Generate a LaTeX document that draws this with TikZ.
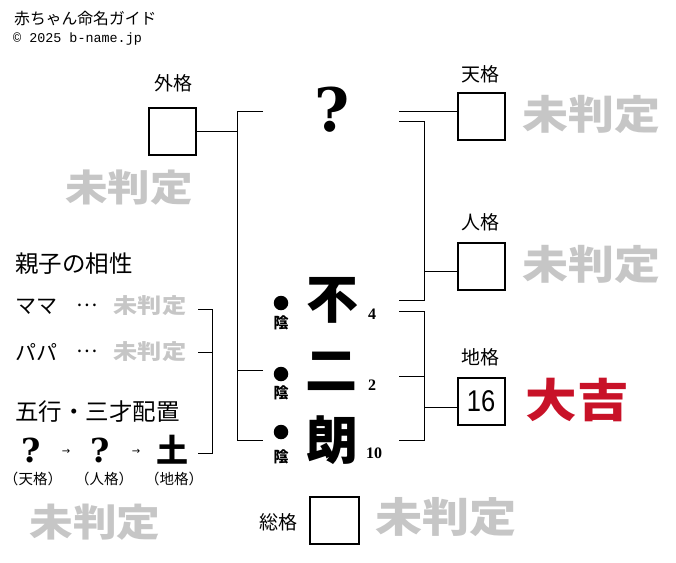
\documentclass[tikz,border=0pt]{standalone}
\usepackage{fontspec}
\newfontfamily\jp{Noto Sans CJK JP}
\newfontfamily\mono{Liberation Mono}
\newfontfamily\serifq{DejaVu Serif}
\newfontfamily\serifn{Liberation Serif}
\newfontfamily\sansn{Liberation Sans}
\newfontfamily\symf{DejaVu Sans}
\definecolor{pend}{RGB}{198,198,198}
\definecolor{kichi}{RGB}{200,18,40}
\newcommand{\widen}[1]{\scalebox{1.15}[1]{#1}}
\tikzset{
  hbox/.style={draw, line width=2pt, minimum width=47pt, minimum height=47pt, inner sep=0pt},
  lbl/.style={font=\jp\fontsize{19}{19}\selectfont, inner sep=0pt},
  lefttxt/.style={anchor=west, font=\jp\fontsize{23.5}{24}\selectfont, inner sep=0pt},
  pending/.style={text=pend, font=\jp\bfseries\fontsize{40}{40}\selectfont, inner sep=0pt},
  pendsmall/.style={text=pend, font=\jp\bfseries\fontsize{21}{21}\selectfont, inner sep=0pt},
  namech/.style={font=\jp\bfseries\fontsize{52}{52}\selectfont, inner sep=0pt},
  strokes/.style={font=\serifn\bfseries\fontsize{16}{16}\selectfont, inner sep=0pt},
  dot/.style={circle, fill=black, minimum size=14.5pt, inner sep=0pt},
  yin/.style={font=\jp\bfseries\fontsize{15}{15}\selectfont, inner sep=0pt},
  wire/.style={line width=1pt},
}
\begin{document}
\begin{tikzpicture}[x=1pt,y=-1pt]
\useasboundingbox (0,0) rectangle (676,562);
% header
\node[anchor=west, font=\jp\fontsize{15.8}{16}\selectfont, inner sep=0pt] (title) at (14,19) {赤ちゃん命名ガイド};
\node[anchor=west, font=\mono\fontsize{13.4}{14}\selectfont, inner sep=0pt] (copy) at (13,39) {© 2025 b-name.jp};
% boxes and labels
\node[lbl] (gaiL) at (173,83) {外格};
\node[hbox] (gai) at (172.5,131) {};
\node[pending, font=\jp\bfseries\fontsize{37}{37}\selectfont] (gaiP) at (129,188) {\widen{未判定}};
\node[lbl] (tenL) at (480,74) {天格};
\node[hbox] (ten) at (481,116) {};
\node[pending] (tenP) at (591,114) {\widen{未判定}};
\node[lbl] (jinL) at (480,222) {人格};
\node[hbox] (jin) at (481,266) {};
\node[pending] (jinP) at (591,264) {\widen{未判定}};
\node[lbl] (chiL) at (480,357) {地格};
\node[hbox, font=\sansn\fontsize{30}{30}\selectfont] (chi) at (481,401.5) {\scalebox{0.85}[1]{16}};
\node[font=\jp\bfseries\fontsize{46}{46}\selectfont, text=kichi, inner sep=0pt] (chiP) at (577,400) {\scalebox{1.12}[1]{大吉}};
\node[lbl] (souL) at (278,522) {総格};
\node[hbox, minimum width=49pt, minimum height=47pt] (sou) at (334.5,520.5) {};
\node[pending, font=\jp\bfseries\fontsize{41}{41}\selectfont] (souP) at (446,517) {\widen{未判定}};
% name
\node[font=\serifq\bfseries\fontsize{60}{60}\selectfont, inner sep=0pt] (q) at (332,110) {?};
\node[namech] (c1) at (332,300) {不};
\node[namech] (c2) at (331,371) {二};
\node[namech] (c3) at (332,440) {朗};
\node[strokes] (n1) at (372,314) {4};
\node[strokes] (n2) at (372,385) {2};
\node[strokes] (n3) at (374,453) {10};
\node[dot] (d1) at (281,303) {};
\node[dot] (d2) at (281,374) {};
\node[dot] (d3) at (281,432) {};
\node[yin] (y1) at (281,323) {陰};
\node[yin] (y2) at (281,393) {陰};
\node[yin] (y3) at (281,457) {陰};
% left section
\node[lefttxt] (aisho) at (15,264) {親子の相性};
\node[lefttxt, font=\jp\fontsize{21}{21}\selectfont] (mama) at (15,307) {ママ};
\node[font=\jp\fontsize{20}{20}\selectfont, inner sep=0pt] (dots1) at (87,305) {…};
\node[pendsmall] (mamaP) at (150,306) {\widen{未判定}};
\node[lefttxt, font=\jp\fontsize{21}{21}\selectfont] (papa) at (15,352) {パパ};
\node[font=\jp\fontsize{20}{20}\selectfont, inner sep=0pt] (dots2) at (87,351) {…};
\node[pendsmall] (papaP) at (150,352) {\widen{未判定}};
\node[lefttxt] (gogyo) at (15,412) {五行・三才配置};
\node[font=\serifq\bfseries\fontsize{33}{33}\selectfont, inner sep=0pt] (g1) at (31,450) {?};
\node[font=\symf\fontsize{10}{10}\selectfont, inner sep=0pt] (a1) at (66,452) {→};
\node[font=\serifq\bfseries\fontsize{33}{33}\selectfont, inner sep=0pt] (g2) at (100,450) {?};
\node[font=\symf\fontsize{10}{10}\selectfont, inner sep=0pt] (a2) at (136,452) {→};
\node[font=\jp\bfseries\fontsize{32}{32}\selectfont, inner sep=0pt] (g3) at (172,450) {土};
\node[font=\jp\fontsize{14.5}{15}\selectfont, inner sep=0pt] (g1L) at (33,479) {（天格）};
\node[font=\jp\fontsize{14.5}{15}\selectfont, inner sep=0pt] (g2L) at (104,479) {（人格）};
\node[font=\jp\fontsize{14.5}{15}\selectfont, inner sep=0pt] (g3L) at (174,479) {（地格）};
\node[pending, font=\jp\bfseries\fontsize{38}{38}\selectfont] (leftP) at (95,522) {\widen{未判定}};
% connectors left spine
\coordinate (Lx) at (237,0);
\coordinate (Ltop) at (263,111);
\coordinate (Lmid) at (263,370);
\coordinate (Lbot) at (263,440);
\draw[wire] (Ltop) -- (Ltop -| Lx) -- (Lbot -| Lx) -- (Lbot);
\draw[wire] (Lmid) -- (Lmid -| Lx);
\draw[wire] (gai.east) -- (gai.east -| Lx);
% right upper
\coordinate (Rx) at (424,0);
\coordinate (Rq1) at (399,111);
\coordinate (Rq2) at (399,121);
\coordinate (R1) at (399,300);
\coordinate (Rjin) at (424,271);
\draw[wire] (Rq1) -- (Rq1 -| ten.west);
\draw[wire] (Rq2) -- (Rq2 -| Rx) -- (R1 -| Rx) -- (R1);
\draw[wire] (Rjin) -- (Rjin -| jin.west);
% right lower
\coordinate (R1b) at (399,311);
\coordinate (R2) at (399,376);
\coordinate (R3) at (399,440);
\coordinate (Rchi) at (424,407);
\draw[wire] (R1b) -- (R1b -| Rx) -- (R3 -| Rx) -- (R3);
\draw[wire] (R2) -- (R2 -| Rx);
\draw[wire] (Rchi) -- (Rchi -| chi.west);
% left bracket
\coordinate (Bx) at (212,0);
\coordinate (Bm) at (198,309);
\coordinate (Bp) at (198,352);
\coordinate (Bg) at (198,453);
\draw[wire] (Bm) -- (Bm -| Bx) -- (Bg -| Bx) -- (Bg);
\draw[wire] (Bp) -- (Bp -| Bx);
\end{tikzpicture}
\end{document}
